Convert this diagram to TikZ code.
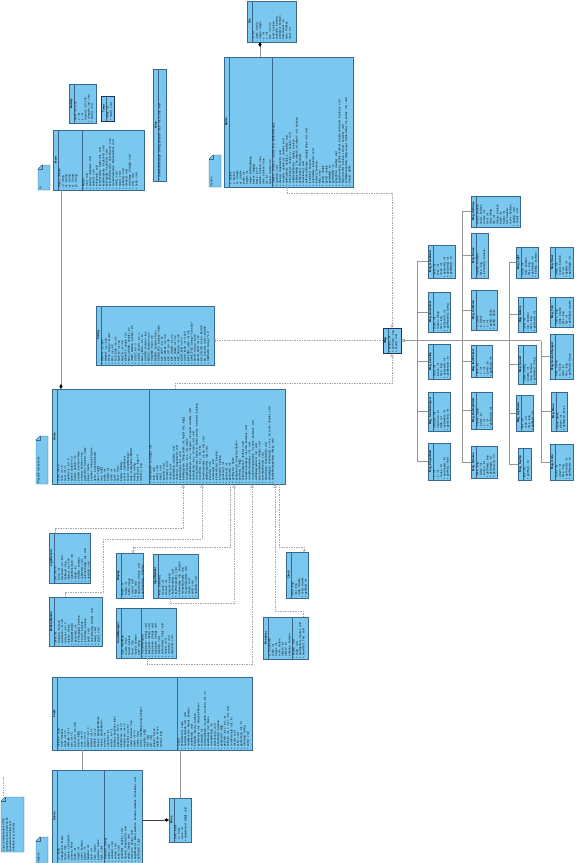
\documentclass[tikz,border=0pt]{standalone}
\usepackage{fontspec}
\setmainfont{Liberation Sans}
\usetikzlibrary{arrows.meta}
\definecolor{clsfill}{RGB}{122,200,240}
\definecolor{clsborder}{RGB}{58,104,140}
\definecolor{linegray}{RGB}{150,150,150}
\definecolor{darkborder}{RGB}{30,50,90}
\tikzset{
 cls/.style={draw=clsborder, fill=clsfill, line width=0.5pt, inner sep=0pt, outer sep=0pt},
 txt/.style={rotate=90, anchor=north west, font=\fontsize{2.7}{3.3}\selectfont, align=left, inner xsep=0.8pt, inner ysep=0.3pt, text=black},
 ttl/.style={rotate=90, font=\fontsize{2.8}{3}\selectfont\bfseries, inner sep=0pt, text=black},
 conn/.style={draw=linegray, line width=0.6pt},
 depline/.style={draw=linegray!85, line width=0.5pt, dash pattern=on 1.5pt off 1pt},
 tri/.style={-{Triangle[open,length=3.5pt,width=3.5pt]}},
 barb/.style={-{Straight Barb[length=2pt,width=3pt]}},
 dia/.style={-{Diamond[length=5pt,width=3.2pt,fill=black,color=black]}},
 notebox/.style={draw=clsborder, fill=clsfill, line width=0.4pt},
}
\newcommand\umlbox[9]{%
 \node[cls, anchor=north west, minimum width=#4pt, minimum height=#5pt] (#1) at (#2,#3) {};
 \draw[clsborder, line width=0.4pt] ([xshift=5pt]#1.north west) -- ([xshift=5pt]#1.south west);
 \node[ttl] at ([xshift=2.5pt]#1.west) {#7};
 \node[txt] at ([xshift=5pt]#1.south west) {#8};
 \ifx&#6&\else
   \draw[clsborder, line width=0.4pt] ([xshift=#6pt]#1.north west) -- ([xshift=#6pt]#1.south west);
   \node[txt] at ([xshift=#6pt]#1.south west) {#9};
 \fi
}
\newcommand\umlnote[6]{%
 \node[minimum width=#4pt, minimum height=#5pt, anchor=north west, inner sep=0pt, outer sep=0pt] (#1) at (#2,#3) {};
 \draw[notebox] (#1.south west) -- (#1.south east) -- (#1.north east) -- ([xshift=4pt]#1.north west) -- ([yshift=-4pt]#1.north west) -- cycle;
 \draw[clsborder, line width=0.4pt] ([xshift=4pt]#1.north west) -- ([xshift=4pt,yshift=-4pt]#1.north west) -- ([yshift=-4pt]#1.north west);
 \node[txt] at ([xshift=1pt]#1.south west) {#6};
}
\begin{document}
\begin{tikzpicture}[x=1pt,y=-1pt]
\fill[white] (0,0) rectangle (578,863);
\useasboundingbox (0,0) rectangle (578,863);

% ---------------- top area ----------------
\umlbox{tile}{247}{1}{49}{41}{}{Tile}{- id : int\\- name : String\\- image : Image\\- x : int\\- y : int\\- size : int = 32\\- solid : boolean\\- walkable : boolean\\- animated : boolean\\- frameCount : int\\- type : TileType\\- layer : int}{}

\umlbox{sprite}{224}{57}{129}{130}{48}{Sprite}{- x : double\\- y : double\\- vx : double\\- vy : double\\- width : int\\- height : int\\- image : BufferedImage\\- frames : Image[]\\- frame : int = 0\\- visible : boolean = true\\- alive : boolean = true\\- dir : int\\- speed : double = 2.0}{+ Sprite(x : double, y : double, img : BufferedImage)\\+ update() : void\\+ draw(g : Graphics2D) : void\\+ move(dx : double, dy : double) : void\\+ setPosition(x : double, y : double) : void\\+ setVelocity(vx : double, vy : double) : void\\+ collidesWith(other : Sprite) : boolean\\+ collidesWith(t : Tile, offsetX : int, offsetY : int) : boolean\\+ getBounds() : Rectangle\\+ nextFrame() : void\\+ setFrames(frames : Image[], delay : int) : void\\+ isVisible() : boolean\\+ setVisible(v : boolean) : void\\+ isAlive() : boolean\\+ kill() : void\\+ getX() : double\\+ getY() : double\\+ getWidth() : int\\+ getHeight() : int\\+ jump(force : double) : void\\+ applyGravity(g : double, maxFall : double, onGround : boolean) : void\\+ flip(horizontal : boolean, vertical : boolean) : void\\+ sendMessage(msg : IMsg, target : Sprite, delay : int, priority : int) : void\\+ clone() : Sprite}

\umlbox{main}{53}{130}{91}{60}{29}{Main}{- frame : JFrame\\- ui : String\\- x1 : String\\- x2 : String\\- y1 : String\\- y2 : String}{+ Main()\\+ run() : void\\+ paint(g : Graphics) : void\\+ setUp() : void\\+ initLayout() : void\\+ keyPressed(e : KeyEvent) : void\\+ keyReleased(e : KeyEvent) : void\\+ keyTyped(e : KeyEvent) : void\\+ actionPerformed(e : ActionEvent) : void\\+ mousePressed(e : MouseEvent) : void\\+ start() : void\\+ stop() : void\\+ update() : void\\+ render() : void\\+ main(args : String[]) : void\\+ init() : void\\+ tick() : void}

\umlbox{battery}{69}{84}{27}{39}{}{Battery}{- level : int = 100\\- x : int\\- y : int\\- capacity : int = 100\\+ charge(n : int) : void\\+ drain() : void}{}

\umlbox{timer}{101}{96}{13}{25}{}{Timer}{- delay : int\\+ start() : void}{}
\draw[darkborder, line width=0.6pt] (timer.north west) rectangle (timer.south east);

\umlbox{hints}{153}{69}{13}{112}{}{Hints}{+ showHint(message : String, duration : int, x : int, y : int) : void}{}

\umlnote{n1}{38}{165}{12}{25}{UI}
\umlnote{n2}{209}{155}{12}{32}{Sprites}

% ---------------- middle ----------------
\umlbox{config}{96}{306}{118}{59}{}{Config}{+ WIDTH : int = 800\\+ HEIGHT : int = 600\\+ TITLE : String = "Game"\\+ FPS : int = 60\\+ TILE\_SIZE : int = 32\\+ MAP\_W : int = 64\\+ MAP\_H : int = 48\\+ GRAVITY : double = 0.5\\+ MAX\_SPEED : double = 6.0\\+ JUMP\_FORCE : double = 9.5\\+ LIVES : int = 3\\+ START\_LEVEL : int = 1\\+ MAX\_LEVEL : int = 10\\+ SOUND : boolean = true\\+ MUSIC : boolean = true\\+ VOLUME : float = 0.8\\+ DEBUG : boolean = false\\+ SHOW\_FPS : boolean = false\\+ KEY\_LEFT : int = 37\\+ KEY\_RIGHT : int = 39\\+ KEY\_UP : int = 38\\+ KEY\_DOWN : int = 40\\+ KEY\_JUMP : int = 32\\+ KEY\_PAUSE : int = 80\\+ LIGHT\_MIN : int = 0\\+ LIGHT\_MAX : int = 1023\\+ BATTERY\_LOW : int = 15\\+ SAVE\_FILE : String = "save.dat"\\+ FONT : String = "Arial"\\+ FONT\_SIZE : int = 12\\+ BG\_COLOR : Color = BLACK\\+ FG\_COLOR : Color = WHITE\\+ VERSION : String = "1.0"}{}

\umlbox{game}{52}{389}{233}{95}{97}{Game}{- score : int = 0\\- lives : int = 3\\- level : int = 1\\- highScore : int = 0\\- speed : double = 1.0\\- gravity : double = 0.5\\- paused : boolean = false\\- running : boolean = true\\- gameOver : boolean = false\\- player : Sprite\\- enemies : ArrayList<Sprite>\\- items : ArrayList<Sprite>\\- tiles : Tile[][]\\- map : int[][]\\- width : int\\- height : int\\- camX : int\\- camY : int\\- timer : Timer\\- battery : Battery\\- sensor : LightSensor\\- sound : SoundManager\\- state : GameState = MENU\\- config : Config\\- frameCount : long = 0\\- lastTime : long}{+ Game(width : int, height : int)\\+ init() : void\\+ start() : void\\+ stop() : void\\+ pause() : void\\+ resume() : void\\+ reset() : void\\+ update(delta : double) : void\\+ render(g : Graphics2D) : void\\+ loadLevel(id : int) : void\\+ loadMap(path : String, width : int, height : int) : int[][]\\+ createPlayer(x : int, y : int) : Sprite\\+ spawnEnemy(x : int, y : int, type : int, speed : double) : void\\+ spawnItem(x : int, y : int, type : int) : void\\+ checkCollision(a : Sprite, b : Sprite, precise : boolean) : boolean\\+ checkTile(x : int, y : int) : Tile\\+ moveCamera(dx : int, dy : int) : void\\+ addScore(points : int) : void\\+ loseLife() : void\\+ nextLevel() : void\\+ isGameOver() : boolean\\+ isPaused() : boolean\\+ getScore() : int\\+ getLives() : int\\+ getLevel() : int\\+ getPlayer() : Sprite\\+ getEnemies() : ArrayList<Sprite>\\+ getTiles() : Tile[][]\\+ setSpeed(speed : double) : void\\+ onKeyPressed(key : int, shift : boolean) : void\\+ onKeyReleased(key : int) : void\\+ onLightChanged(value : int, dark : boolean) : void\\+ onBatteryLow(level : int) : void\\+ playSound(name : String) : void\\+ saveHighScore() : void\\+ drawHud(g : Graphics2D) : void\\+ drawMap(g : Graphics2D, x : int, y : int, scale : double) : void\\+ handleMessage(msg : IMsg) : void}

\umlnote{n3}{36}{436}{12}{48}{Playable components}

\umlbox{hub}{383}{328}{18}{25}{}{IMsg}{+ getId() : int\\+ getTime() : long\\+ send() : void}{}
\draw[darkborder, line width=0.6pt] (hub.north west) rectangle (hub.south east);

% ---------------- message classes ----------------
\umlbox{mC}{428}{245}{27}{33}{}{Msg\_GameStart}{- level : int\\- lives : int\\- mode : int\\+ getLevel() : int\\+ getLives() : int\\+ getMode() : int}{}
\umlbox{mc1}{428}{292}{22}{40}{}{Msg\_GameOver}{- score : int\\- reason : String\\- time : long\\+ getScore() : int\\+ getReason() : String}{}
\umlbox{mc2}{428}{344}{22}{35}{}{Msg\_LevelUp}{- level : int\\- bonus : int\\- time : long\\+ getLevel() : int\\+ getBonus() : int}{}
\umlbox{mc3}{428}{392}{22}{39}{}{Msg\_ScoreChanged}{- oldScore : int\\- newScore : int\\- delta : int\\+ getDelta() : int\\+ getScore() : int}{}
\umlbox{mc4}{428}{443}{22}{37}{}{Msg\_PlayerDied}{- x : int\\- y : int\\- cause : int\\+ getCause() : int\\+ getPos() : Point}{}

\umlbox{mA}{471}{196}{49}{31}{}{Msg\_Settings}{- sound : boolean\\- music : boolean\\- volume : int\\- level : int\\- lang : String\\- fps : int\\- debug : boolean\\- width : int\\- height : int\\- full : boolean\\- vsync : boolean\\+ apply() : void\\+ save() : void}{}
\umlbox{mB}{471}{233}{17}{45}{}{Msg\_Pause}{- paused : boolean\\- time : long\\+ isPaused() : boolean}{}
\umlbox{md1}{471}{290}{26}{40}{}{Msg\_Collision}{- a : Sprite\\- b : Sprite\\- x : int\\- y : int\\+ getA() : Sprite\\+ getB() : Sprite}{}
\umlbox{md2}{471}{345}{21}{32}{}{Msg\_ItemPicked}{- item : int\\- x : int\\- y : int\\- points : int\\+ getItem() : int}{}
\umlbox{md3}{471}{392}{21}{37}{}{Msg\_EnemyKilled}{- enemy : Sprite\\- points : int\\- x : int\\- y : int\\+ getPoints() : int}{}
\umlbox{md4}{471}{446}{26}{32}{}{Msg\_Resume}{- time : long\\- delay : int\\- source : int\\+ getTime() : long\\+ getDelay() : int\\+ getSource() : int}{}

\umlbox{mD}{516}{247}{22}{31}{}{Msg\_Light}{- value : int\\- dark : boolean\\- time : long\\+ getValue() : int\\+ isDark() : boolean}{}
\umlbox{me1}{518}{297}{18}{35}{}{Msg\_Battery}{- level : int\\- low : boolean\\- time : long\\+ getLevel() : int}{}
\umlbox{me2}{518}{345}{18}{39}{}{Msg\_Sound}{- name : String\\- volume : int\\- loop : boolean\\+ getName() : String}{}
\umlbox{me3}{516}{395}{17}{36}{}{Msg\_KeyDown}{- key : int\\- code : int\\- time : long\\+ getKey() : int}{}
\umlbox{me4}{518}{448}{13}{32}{}{Msg\_KeyUp}{- key : int\\+ getKey() : int}{}

\umlbox{mE}{550}{247}{23}{31}{}{Msg\_Timer}{- delay : int\\- repeat : boolean\\- id : int\\+ getId() : int\\+ getDelay() : int}{}
\umlbox{mf0}{550}{297}{23}{30}{}{Msg\_Tick}{- frame : long\\- delta : double\\- time : long\\- fps : int\\+ getDelta() : double}{}
\umlbox{mf1}{550}{334}{23}{45}{}{Msg\_SceneChanged}{- from : Scene\\- to : Scene\\- fade : int\\- time : long\\+ getFrom() : Scene}{}
\umlbox{mf2}{551}{392}{16}{39}{}{Msg\_Move}{- move : Move\\- player : int\\+ getMove() : Move}{}
\umlbox{mf3}{550}{444}{23}{36}{}{Msg\_Undo}{- count : int\\- player : int\\- time : long\\+ getCount() : int\\+ getPlayer() : int}{}

% ---------------- components below Game ----------------
\umlbox{g1}{49}{533}{41}{50}{}{LightSensor}{- pin : int = 0\\- value : int\\- threshold : int = 500\\- lastRead : long\\- interval : int = 100\\+ LightSensor(pin : int)\\+ read() : int\\+ isDark() : boolean\\+ calibrate() : void\\+ setThreshold(t : int) : void\\+ update() : void}{}
\umlbox{g2}{49}{597}{53}{49}{}{BatteryMonitor}{- level : int\\- charging : boolean\\- warnLevel : int = 20\\- critLevel : int = 5\\- listener : Game\\+ BatteryMonitor()\\+ getLevel() : int\\+ isCharging() : boolean\\+ isLow() : boolean\\+ isCritical() : boolean\\+ poll() : void\\+ setListener(g : Game) : void\\+ start() : void\\+ stop() : void}{}
\umlbox{g3}{116}{553}{27}{45}{}{Display}{- width : int\\- height : int\\- buffer : Image\\+ clear() : void\\+ flip() : void\\+ drawText(s : String) : void\\+ getGraphics() : Graphics}{}
\umlbox{g4}{153}{554}{45}{44}{}{InputHandler}{- keys : boolean[]\\- mouseX : int\\- mouseY : int\\- pressed : boolean\\+ keyPressed(e) : void\\+ keyReleased(e) : void\\+ isDown(key : int) : boolean\\+ mouseMoved(e) : void\\+ mouseClicked(e) : void\\+ reset() : void\\+ poll() : void\\+ update() : void}{}
\umlbox{g5}{116}{608}{60}{50}{25}{SoundManager}{- clips : HashMap\\- volume : float\\- muted : boolean\\- music : Clip\\- loaded : boolean\\- path : String}{+ SoundManager()\\+ load(name : String) : void\\+ play(name : String) : void\\+ loop(name : String) : void\\+ stop(name : String) : void\\+ stopAll() : void\\+ setVolume(v : float) : void\\+ mute() : void\\+ unmute() : void\\+ dispose() : void}
\umlbox{g6}{263}{617}{45}{42}{29}{Renderer}{- g : Graphics2D\\- width : int\\- height : int\\- scale : double\\- offsetX : int\\- offsetY : int\\- antialias : boolean}{+ begin() : void\\+ end() : void\\+ drawSprite(s : Sprite) : void\\+ drawTile(t : Tile) : void}
\umlbox{g7}{286}{552}{22}{46}{}{Clock}{- start : long\\- last : long\\- delta : double\\+ tick() : double\\+ getFps() : int}{}

% ---------------- bottom ----------------
\umlbox{logic}{52}{677}{200}{73}{125}{Logic}{- instance : Logic\\- rand : Random\\- mode : int = 0\\- difficulty : int = 1\\- turn : int = 0\\- maxTurns : int = 200\\- board : int[][]\\- rows : int = 8\\- cols : int = 8\\- EMPTY : int = 0\\- BLACK : int = 1\\- WHITE : int = 2\\- moves : ArrayList<Move>\\- history : Stack<Move>\\- current : int\\- opponent : int\\- winner : int = -1\\- finished : boolean = false\\- passCount : int = 0\\- blackScore : int = 2\\- whiteScore : int = 2\\- timeLimit : int = 60\\- useAI : boolean = true\\- depth : int = 4\\- nodes : long\\- cache : HashMap<Long, Integer>\\- weights : int[][]\\- dirX : int[]\\- dirY : int[]\\- listener : Scene\\- lastMove : Move\\- started : long}{+ Logic()\\+ getInstance() : Logic\\+ newGame(mode : int) : void\\+ makeMove(m : Move) : boolean\\+ undoMove() : void\\+ isValid(m : Move) : boolean\\+ getMoves(p : int) : ArrayList<Move>\\+ evaluate() : int\\+ minimax(depth : int, alpha : int, beta : int) : int\\+ bestMove(p : int) : Move\\+ checkWinner() : int\\+ switchTurn() : void\\+ isFinished() : boolean\\+ getBoard() : int[][]\\+ getCell(r : int, c : int) : int\\+ setCell(r : int, c : int, v : int) : void\\+ countPieces(p : int) : int\\+ reset() : void\\+ tick() : void\\+ getScore(p : int) : int\\+ toString() : String\\+ print() : void}

\umlbox{scene}{52}{770}{90}{93}{52}{Scene}{- id : String\\- background : Image\\- music : Clip\\- objects : List<Sprite>\\- camera : Point\\- width : int\\- height : int\\- active : boolean\\- fadeIn : int\\- fadeOut : int\\- layer : int\\- next : Scene\\- previous : Scene\\- logic : Logic}{+ Scene(id : String)\\+ load() : void\\+ unload() : void\\+ enter() : void\\+ exit() : void\\+ update(dt : double) : void\\+ draw(g : Graphics2D) : void\\+ add(s : Sprite) : void\\+ remove(s : Sprite) : void\\+ applyMove(m : Move, animate : boolean, callback : Runnable) : void\\+ getLogic() : Logic}

\umlbox{move}{169}{798}{22}{44}{}{Move}{- from : Point\\- to : Point\\- piece : int\\+ apply(board : int[][]) : void}{}

\umlnote{n4}{36}{837}{12}{28}{Graphics}
\umlnote{n5}{1}{797}{23}{55}{Logic is independent of the\\graphical scene and can be\\reused with another user\\interface (e.g. console).}
\coordinate (n5a) at (3,777);
\draw[depline] (n5a) -- ([xshift=2pt]n5.north west);

% ---------------- connectors ----------------
\draw[conn,dia] ([xshift=8pt]main.south west) -- ([xshift=9pt]game.north west);
\draw[conn,dia] ([xshift=36pt]sprite.north west) -- ([xshift=13pt]tile.south west);

\draw[depline,tri] ([xshift=63pt]sprite.south west) |- (392,193) -- (hub.north);
\draw[depline,tri] ([xshift=123pt]game.north west) |- (392,383) -- (hub.south);
\draw[depline,barb] (hub.west) -- (hub.west -| config.east);

\coordinate (v1) at (417,340.5);
\coordinate (v2) at (462,340.5);
\coordinate (v3) at (509,340.5);
\coordinate (v4) at (541,340.5);
\draw[conn,tri] (v4) -- (hub.east);
\foreach \c in {mC,mc1,mc2,mc3,mc4} {\draw[conn] (\c.west) -| (v1);}
\foreach \c in {mA,mB,md1,md2,md3,md4} {\draw[conn] (\c.west) -| (v2);}
\foreach \c in {mD,me1,me2,me3,me4} {\draw[conn] (\c.west) -| (v3);}
\foreach \c in {mf1,mf2,mf3} {\draw[conn] (\c.west) -| (v4);}

\draw[depline,tri] ([xshift=6pt]g1.north west) |- (183,528) -- ([xshift=131pt]game.south west);
\draw[depline,tri] ([xshift=16pt]g2.north west) |- (103,592) |- (202,539) -- ([xshift=150pt]game.south west);
\draw[depline,barb] ([xshift=178pt]game.south west) |- (133,547) -- ([xshift=17pt]g3.north west);
\draw[depline,tri] ([xshift=17pt]g4.south west) |- (234,603) -- ([xshift=182pt]game.south west);
\draw[depline,tri] ([xshift=31pt]g5.south west) |- (252,664) -- ([xshift=200pt]game.south west);
\draw[depline,tri] ([xshift=40pt]g6.north west) |- (275,611) -- ([xshift=223pt]game.south west);
\draw[depline,barb] ([xshift=227pt]game.south west) |- (304,547) -- ([xshift=18pt]g7.north west);

\draw[conn] ([xshift=30pt]logic.south west) -- ([xshift=30pt]scene.north west);
\draw[conn] ([xshift=128pt]logic.south west) -- ([xshift=11pt]move.north west);
\draw[draw=black!75, line width=0.5pt, dia] ([yshift=-50pt]scene.north east) -- ([yshift=-22pt]move.north west);
\end{tikzpicture}
\end{document}
